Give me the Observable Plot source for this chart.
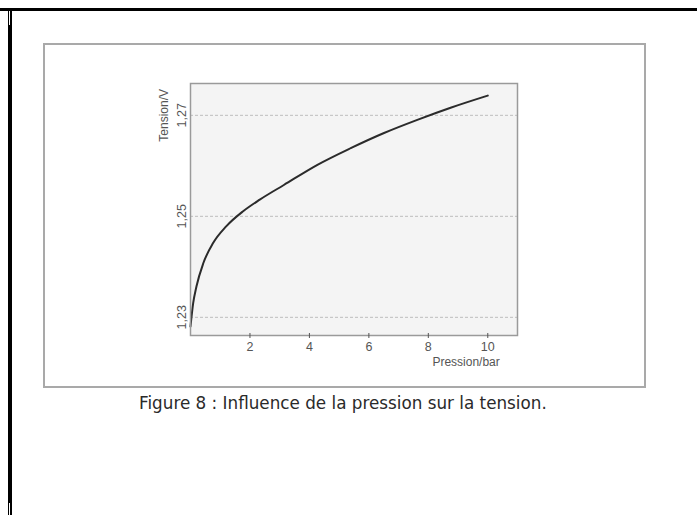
<!DOCTYPE html>
<html>
<head>
<meta charset="utf-8">
<script src="https://cdn.jsdelivr.net/npm/d3@7"></script>
<script src="https://cdn.jsdelivr.net/npm/@observablehq/plot@0.6"></script>
<style>
  html, body { margin: 0; padding: 0; background: #fff; width: 697px; height: 515px; overflow: hidden; position: relative; }
  .topline { position: absolute; left: 0; top: 8px; width: 697px; height: 3px; background: #000; }
  .leftline { position: absolute; left: 8px; top: 8px; width: 4px; height: 507px; background: #000; }
  .gap { position: absolute; left: 9px; width: 1px; background: #fff; }
  .box { position: absolute; left: 43px; top: 43px; width: 599px; height: 341px; border: 2px solid #a9a9a9; background: #fff; }
  #chart { position: absolute; left: 0; top: 0; }
  .caption { position: absolute; left: 139px; top: 392px; font-family: "DejaVu Sans", Verdana, sans-serif; font-size: 16.8px; line-height: 22px; color: #2a2a2a; white-space: nowrap; }
</style>
</head>
<body>
<div class="topline"></div>
<div class="leftline"></div>
<div class="gap" style="top:11px;height:14px"></div>
<div class="gap" style="top:503px;height:12px"></div>
<div class="box"></div>
<div id="chart"></div>
<div class="caption">Figure 8 : Influence de la pression sur la tension.</div>
<script>
// Data
const pression = [0, 0.09, 0.20, 0.43, 0.76, 1.20, 1.77, 2.33, 3.14, 4.27, 5.39, 6.51, 7.63, 8.75, 10.0];
const tension  = [1.2282, 1.2328, 1.2361, 1.2407, 1.2447, 1.2480, 1.2510, 1.2533, 1.2562, 1.2602, 1.2635, 1.2665, 1.2691, 1.2715, 1.2739];
const xTicks = [2, 4, 6, 8, 10];
const yTicks = [1.23, 1.25, 1.27];
const xLabel = ["Pression/bar"];
const yLabel = ["Tension/V"];

const data = pression.map((p, i) => ({p, v: tension[i]}));
const fmt = d => d.toFixed(2).replace(".", ",");

const plot = Plot.plot({
  width: 697,
  height: 400,
  marginLeft: 190,
  marginTop: 83,
  marginRight: 180,
  marginBottom: 65,
  style: {background: "transparent", fontFamily: "'Liberation Sans', Arial, sans-serif", fontSize: "12.5px", color: "#555"},
  x: {domain: [0, 11]},
  y: {domain: [1.2264, 1.2763]},
  marks: [
    Plot.frame({fill: "#f4f4f4", stroke: null}),
    Plot.gridY(yTicks, {stroke: "#bdbdbd", strokeOpacity: 1, strokeDasharray: "3,2"}),
    Plot.line(data, {x: "p", y: "v", curve: "monotone-x", stroke: "#2b2b2b", strokeWidth: 2}),
    Plot.frame({stroke: "#9a9a9a", strokeWidth: 1.5}),
    Plot.axisX(xTicks, {tickSize: 5, dy: -2, tickPadding: 4, stroke: "#555", label: null, tickFormat: d => String(d)}),
    Plot.axisY(yTicks, {tickSize: 0, tickRotate: -90, tickPadding: 2, dx: -3, label: null, tickFormat: fmt}),
    Plot.text(yLabel, {y: [1.27], frameAnchor: "left", rotate: -90, dx: -26, textAnchor: "middle", fill: "#555", fontSize: 12}),
    Plot.text(xLabel, {x: [10], frameAnchor: "bottom", textAnchor: "end", dx: 12, dy: 30, fill: "#555", fontSize: 12})
  ]
});
document.getElementById("chart").appendChild(plot);
</script>
</body>
</html>
